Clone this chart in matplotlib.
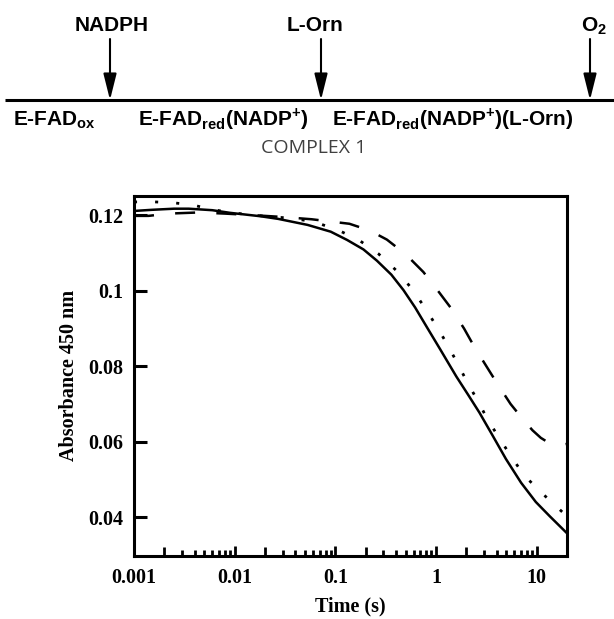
import matplotlib
matplotlib.use('Agg')
import matplotlib.pyplot as plt
from matplotlib.ticker import LogLocator, NullFormatter, FixedLocator
import numpy as np

# ---- data ----
t_solid = [0.001, 0.0015, 0.0025, 0.0035, 0.006, 0.009, 0.018, 0.027, 0.053, 0.09,
           0.131, 0.19, 0.259, 0.36, 0.475, 0.62, 0.806, 1.1, 1.59, 2.1, 2.7, 3.6,
           4.95, 7.0, 9.8, 13.5, 20]
a_solid = [0.1212, 0.1215, 0.1218, 0.1218, 0.1214, 0.1207, 0.1198, 0.1191, 0.1175, 0.1157,
           0.1135, 0.1110, 0.1080, 0.1043, 0.1002, 0.0956, 0.0905, 0.0845, 0.0773, 0.0723,
           0.0677, 0.0619, 0.0554, 0.0491, 0.0440, 0.0402, 0.0357]

t_dot = [0.001, 0.0016, 0.0024, 0.0038, 0.0055, 0.008, 0.012, 0.02, 0.035, 0.057, 0.072,
         0.113, 0.171, 0.269, 0.415, 0.574, 0.776, 1.03, 1.32, 1.66, 2.06, 2.6, 3.27,
         4.26, 5.63, 7.52, 12.2, 18.9, 20]
a_dot = [0.1236, 0.1236, 0.1234, 0.1228, 0.1218, 0.1210, 0.1204, 0.1198, 0.1193, 0.1185,
         0.1177, 0.1158, 0.1135, 0.1098, 0.1051, 0.1006, 0.0955, 0.0903, 0.0854, 0.0804,
         0.0756, 0.0708, 0.0658, 0.0609, 0.0559, 0.0510, 0.0455, 0.0408, 0.0402]

t_dash = [0.001, 0.0014, 0.0022, 0.0044, 0.008, 0.015, 0.03, 0.058, 0.138, 0.22, 0.325,
          0.5, 0.749, 1.0, 1.42, 1.9, 2.42, 3.2, 4.1, 5.5, 7.52, 9.1, 11, 13, 16, 20]
a_dash = [0.1199, 0.1199, 0.1205, 0.1208, 0.1205, 0.1201, 0.1196, 0.1190, 0.1178, 0.1160,
          0.1136, 0.1097, 0.1050, 0.1007, 0.0953, 0.0900, 0.0850, 0.0798, 0.0752, 0.0700,
          0.0655, 0.0630, 0.0610, 0.0598, 0.0590, 0.0594]

y_ticks = [0.04, 0.06, 0.08, 0.1, 0.12]
y_ticklabels = ['0.04', '0.06', '0.08', '0.1', '0.12']
x_ticks = [0.001, 0.01, 0.1, 1, 10]
x_ticklabels = ['0.001', '0.01', '0.1', '1', '10']

# scheme labels (above the plot)
additions = ['NADPH', 'L-Orn', 'O$_\\mathregular{2}$']
add_x = [112, 315, 594]
arrow_x = [110, 321, 590]
states = ['E-FAD$_\\mathregular{ox}$',
          'E-FAD$_\\mathregular{red}$(NADP$^\\mathregular{+}$)',
          'E-FAD$_\\mathregular{red}$(NADP$^\\mathregular{+}$)(L-Orn)']
state_x = [13, 138, 332]

W, H = 614, 619
fig = plt.figure(figsize=(W / 100, H / 100), dpi=100)

# overlay in pixel coordinates for the reaction scheme
sch = fig.add_axes([0, 0, 1, 1])
sch.set_xlim(0, W)
sch.set_ylim(H, 0)
sch.axis('off')

sans = dict(family='Liberation Sans', weight='bold', size=15)
sch.plot([5, W], [100, 100], color='black', lw=2.2, solid_capstyle='butt')
for lab, lx, ax_ in zip(additions, add_x, arrow_x):
    sch.text(lx, 31, lab, ha='center', va='baseline', **sans)
    sch.annotate('', xy=(ax_, 100), xytext=(ax_, 39),
                 arrowprops=dict(arrowstyle='-|>,head_length=0.8,head_width=0.2',
                                 lw=1.5, color='black', shrinkA=0, shrinkB=0,
                                 mutation_scale=20))
for lab, sx in zip(states, state_x):
    sch.text(sx, 125, lab, ha='left', va='baseline', **sans)
sch.text(314, 148, 'COMPLEX 1', ha='center', va='center', family='Open Sans',
         size=14, color='#404040')

# ---- kinetic traces ----
ax = fig.add_axes([134 / W, 1 - 555.5 / H, (567 - 134) / W, (555.5 - 195.5) / H])
ax.plot(t_solid, a_solid, color='black', lw=1.8, ls='-')
ax.plot(t_dot, a_dot, color='black', lw=2.0, ls=(0, (1.1, 6.5)))
ax.plot(t_dash, a_dash, color='black', lw=1.8, ls=(0, (8, 8.5)))

ax.set_xscale('log')
ax.set_xlim(0.001, 20)
ax.set_ylim(0.0298, 0.1253)

serif = dict(family='Liberation Serif', weight='bold', size=14.5)
ax.xaxis.set_major_locator(FixedLocator(x_ticks))
ax.set_xticklabels(x_ticklabels, **serif)
ax.xaxis.set_minor_locator(LogLocator(base=10, subs=np.arange(2, 10)))
ax.xaxis.set_minor_formatter(NullFormatter())
ax.set_yticks(y_ticks)
ax.set_yticklabels(y_ticklabels, **serif)

ax.tick_params(axis='x', which='major', direction='in', length=7.5, width=2, pad=9,
               top=False)
ax.tick_params(axis='x', which='minor', direction='in', length=4.5, width=2, top=False)
ax.tick_params(axis='y', which='major', direction='in', length=9, width=2.2, pad=8,
               right=False)
ax.tick_params(axis='y', which='minor', left=False, right=False)
for s in ax.spines.values():
    s.set_linewidth(2.2)

# the "2" minor ticks are a little longer in the original
locs = ax.xaxis.get_minorticklocs()
for loc, tk in zip(locs, ax.xaxis.get_minor_ticks(len(locs))):
    lead = loc / 10 ** np.floor(np.log10(loc) + 1e-9)
    if abs(lead - 2) < 1e-6:
        tk.tick1line.set_markersize(6.2)

ax.set_xlabel('Time (s)', labelpad=6, **serif)
ax.set_ylabel('Absorbance 450 nm', labelpad=6, **serif)

fig.savefig('out.png', dpi=100)
